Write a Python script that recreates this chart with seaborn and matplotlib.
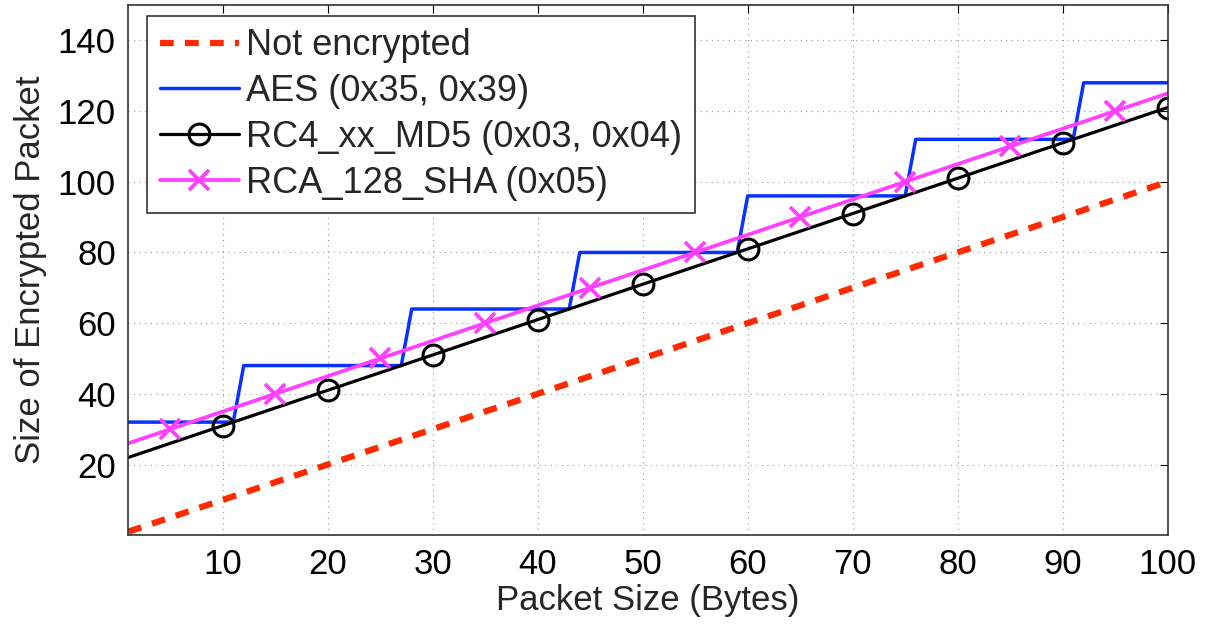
import matplotlib
matplotlib.use('Agg')
import matplotlib.pyplot as plt
import seaborn as sns

# packet sizes and encrypted sizes
plain_x = [1, 100]
plain_y = [1, 100]

aes_x = [1, 11, 12, 27, 28, 43, 44, 59, 60, 75, 76, 91, 92, 100]
aes_y = [32, 32, 48, 48, 64, 64, 80, 80, 96, 96, 112, 112, 128, 128]

md5_x = [1, 10, 20, 30, 40, 50, 60, 70, 80, 90, 100]
md5_y = [22, 31, 41, 51, 61, 71, 81, 91, 101, 111, 121]

sha_x = [1, 5, 15, 25, 35, 45, 55, 65, 75, 85, 95, 100]
sha_y = [26, 30, 40, 50, 60, 70, 80, 90, 100, 110, 120, 125]

labels = ['Not encrypted', 'AES (0x35, 0x39)',
          'RC4_xx_MD5 (0x03, 0x04)', 'RCA_128_SHA (0x05)']

sns.set_style('white')
plt.rcParams['font.family'] = ['Liberation Sans', 'DejaVu Sans']
fs = 25

fig, ax = plt.subplots(figsize=(12.1, 6.26), dpi=100)

sns.lineplot(x=plain_x, y=plain_y, ax=ax, color='#ff2a00', linewidth=4.5,
             linestyle=(0, (2.2, 1.8)), label=labels[0])
sns.lineplot(x=aes_x, y=aes_y, ax=ax, color='#0a32ff', linewidth=2.5,
             label=labels[1], sort=False)
sns.lineplot(x=md5_x, y=md5_y, ax=ax, color='black', linewidth=2.3,
             marker='o', markersize=15, markerfacecolor='none',
             markeredgecolor='black', markeredgewidth=2.2,
             markevery=list(range(1, len(md5_x))), label=labels[2])
sns.lineplot(x=sha_x, y=sha_y, ax=ax, color='#ff40ff', linewidth=2.7,
             marker='x', markersize=15, markeredgewidth=2.7,
             markeredgecolor='#ff40ff',
             markevery=list(range(1, len(sha_x) - 1)), label=labels[3])

ax.set_xlim(1, 100)
ax.set_ylim(0, 150)
ax.set_xticks([10, 20, 30, 40, 50, 60, 70, 80, 90, 100])
ax.set_yticks([20, 40, 60, 80, 100, 120, 140])
ax.grid(True, linestyle=(0, (1, 4)), color='#999999', linewidth=0.8)
ax.tick_params(direction='in', length=6, width=0.8, labelsize=fs, pad=9,
               top=True, right=True, colors='black')
for s in ax.spines.values():
    s.set_color('#333333')
    s.set_linewidth(1.2)

ax.set_xlabel('Packet Size (Bytes)', fontsize=fs, labelpad=2)
ax.set_ylabel('Size of Encrypted Packet', fontsize=fs, labelpad=8)

leg = ax.legend(loc='upper left', fontsize=26, frameon=True, fancybox=False,
                handlelength=2.2, handletextpad=0.2, borderpad=0.35,
                labelspacing=0.3, borderaxespad=0, bbox_to_anchor=(0.018, 0.98))
leg.get_frame().set_edgecolor('#333333')
leg.get_frame().set_linewidth(1.2)
leg.get_frame().set_alpha(1)

plt.subplots_adjust(left=0.106, right=0.965, top=0.992, bottom=0.145)
plt.savefig('out.png', dpi=100)
